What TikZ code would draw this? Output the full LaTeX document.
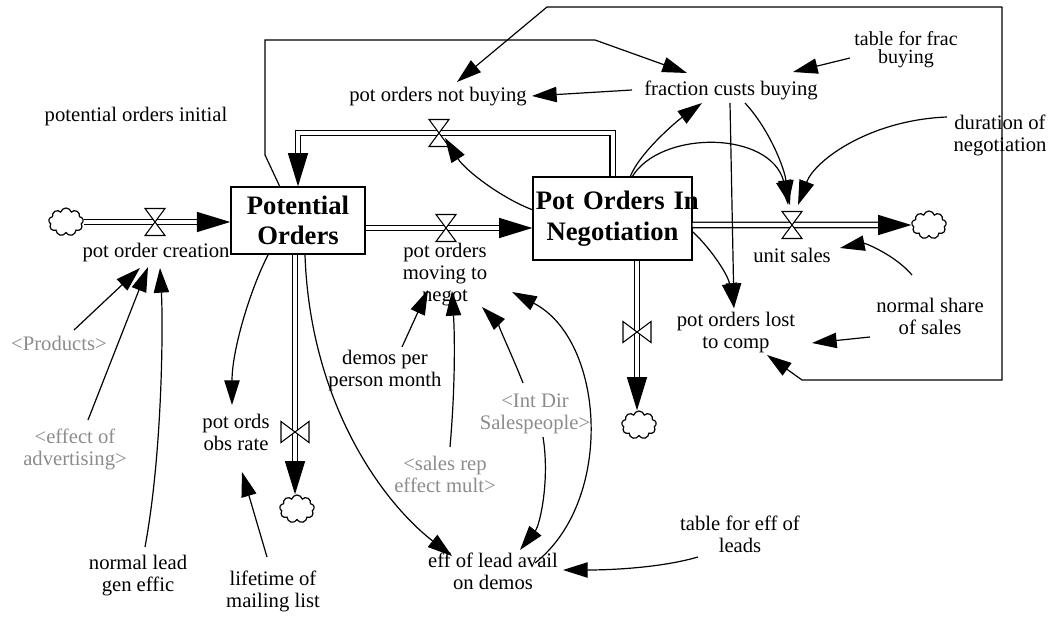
\documentclass[tikz,border=0pt]{standalone}
\usepackage{fontspec}
\setmainfont{Liberation Serif}
\usetikzlibrary{arrows.meta,shapes.symbols,calc}
\tikzset{
 txt/.style={font=\fontsize{15.5}{16.5}\selectfont, align=center, inner sep=1pt},
 gtxt/.style={txt, text=black!45},
 stock/.style={draw, line width=1.1pt, fill=white, font=\fontsize{20}{23}\selectfont\bfseries, align=center, inner sep=0pt},
 pipe/.style={double, double distance=3pt, line width=1.1pt},
 pipetip/.style={-{Triangle[length=25pt,width=15pt]}},
 link/.style={line width=0.9pt, -{Triangle[length=18.5pt,width=11.5pt]}},
 cloudnode/.style={cloud, cloud puffs=9, cloud ignores aspect, draw, line width=0.9pt, minimum width=26pt, minimum height=21pt, inner sep=0pt, fill=white},
 valveh/.pic={\filldraw[fill=white, line width=0.8pt] (-10,-13.5) -- (10,-13.5) -- (0,0) -- cycle (-10,13.5) -- (10,13.5) -- (0,0) -- cycle;},
 valvev/.pic={\filldraw[fill=white, line width=0.8pt] (-14,-10.5) -- (-14,10.5) -- (0,0) -- cycle (14,-10.5) -- (14,10.5) -- (0,0) -- cycle;},
}
\begin{document}
\begin{tikzpicture}[x=0.75pt,y=-0.75pt]
\useasboundingbox (0,0) rectangle (1052,623);

% stocks
\node[stock, minimum width=100.5pt, minimum height=50pt] (po) at (298,220.5) {Potential\\Orders};
\node[stock, text width=117pt, minimum width=119pt, minimum height=62pt] (poin) at (612.5,218.5) {\mbox{\hspace*{1pt}Pot Orders In}\\Negotiation};

% clouds
\node[cloudnode] (c1) at (66,222) {};
\node[cloudnode] (c4) at (929,225) {};
\node[cloudnode] (c5) at (639,425) {};
\node[cloudnode] (c6) at (297,509) {};

% valve positions
\coordinate (v1) at (155,222);
\coordinate (v2) at (446,228);
\coordinate (v3) at (439,133);
\coordinate (v4) at (792,225);
\coordinate (v5) at (637,332);
\coordinate (v6) at (295,432);

% pipes
\draw[pipe,pipetip] (c1.east) -- (c1.east -| po.west);
\draw[pipe,pipetip] (po.east |- v2) -- (poin.west |- v2);
\draw[pipe,pipetip] (poin.north) |- (v3) -| (po.north);
\draw[pipe,pipetip] (poin.east |- v4) -- (c4.west);
\draw[pipe,pipetip] (poin.south -| v5) -- (v5 |- c5.north);
\draw[pipe,pipetip] (po.south -| v6) -- (v6 |- c6.north);

\pic at (v1) {valveh};
\pic at (v2) {valveh};
\pic at (v3) {valveh};
\pic at (v4) {valveh};
\pic at (v5) {valvev};
\pic at (v6) {valvev};

% texts
\node[txt] (poi) at (136,117) {potential orders initial};
\node[txt] (pnb) at (438,97) {pot orders not buying};
\node[txt] (fcb) at (731,90) {fraction custs buying};
\node[txt, font=\fontsize{15}{13.5}\selectfont] (tfb) at (906,50) {table for frac\\buying};
\node[txt] (dn) at (1000,135) {duration of\\negotiation};
\node[txt] (us) at (792,255) {unit sales};
\node[txt] (nss) at (930,316) {normal share\\of sales};
\node[txt] (pol) at (736,333) {pot orders lost\\to comp};
\node[txt] (tel) at (740,534) {table for eff of\\leads};
\node[txt] (ela) at (493,571) {eff of lead avail\\on demos};
\node[txt] (dpm) at (385,371) {demos per\\person month};
\node[gtxt] (srm) at (445,474) {<sales rep\\effect mult>};
\node[gtxt] (ids) at (535,414) {<Int Dir\\Salespeople>};
\node[txt] (pmn) at (445,275) {pot orders\\moving to\\negot};
\node[txt] (poc) at (156,253) {pot order creation};
\node[gtxt] (prod) at (59,343) {<Products>};
\node[gtxt] (eoa) at (75,449) {<effect of\\advertising>};
\node[txt] (nlg) at (138,576) {normal lead\\gen effic};
\node[txt] (lml) at (273,591) {lifetime of\\mailing list};
\node[txt] (por) at (236,432) {pot ords\\obs rate};

% connectors
\draw[link] ([shift={(15,-13)}]prod.center) -- ([shift={(-16,15)}]poc.center);
\draw[link] ([shift={(13,-29)}]eoa.center) -- ([shift={(-8,14)}]poc.center);
\draw[link] ([shift={(7,-29)}]nlg.center) .. controls +(18,-97) and +(3,52) .. ([shift={(4,15)}]poc.center);
\draw[link] ([shift={(-30,34.5)}]po.center) .. controls +(-18,35) and +(0,-55) .. ([shift={(-4,-27)}]por.center);
\draw[link] ([shift={(-6,-34)}]lml.center) -- ([shift={(6,40)}]por.center);
\draw[link] ([shift={(7,34.5)}]po.center) .. controls +(5,145) and +(-72,-56) .. ([shift={(-41,-15)}]ela.center);
\draw[link] ([shift={(17,-24)}]dpm.center) -- ([shift={(-17,15)}]pmn.center);
\draw[link] ([shift={(5,-27)}]srm.center) .. controls +(5,-57) and +(3,49) .. ([shift={(7,16)}]pmn.center);
\draw[link] ([shift={(-12,-31)}]ids.center) .. controls +(-13,-33) and +(13,13) .. ([shift={(37,32)}]pmn.center);
\draw[link] ([shift={(8,23)}]ids.center) .. controls +(7,43) and +(20,-25) .. ([shift={(27,-21)}]ela.center);
\draw[link] ([shift={(42,-8)}]ela.center) .. controls +(80,-63) and +(93,48) .. ([shift={(67,17)}]pmn.center);
\draw[link] ([shift={(-42,23)}]tel.center) .. controls +(-38,11) and +(47,0) .. ([shift={(70,-1)}]ela.center);
\draw[link] ([shift={(-79.5,-8.5)}]poin.center) .. controls +(-32,-12) and +(20,32) .. ([shift={(6,5)}]v3);
\draw[link] ([shift={(17.5,-41.5)}]poin.center) .. controls +(10,-25) and +(-25,18) .. ([shift={(-29,13)}]fcb.center);
\draw[link] ([shift={(19.5,-41.5)}]poin.center) .. controls +(28,-47) and +(-20,-75) .. ([shift={(-2,-20)}]v4);
\draw[link] ([shift={(14,13)}]fcb.center) .. controls +(25,27) and +(-3,-35) .. ([shift={(-4,-20)}]v4);
\draw[link] ([shift={(-53,-18)}]dn.center) .. controls +(-77,3) and +(17,-45) .. ([shift={(6,-20)}]v4);
\draw[link] ([shift={(-1,13)}]fcb.center) -- ([shift={(-2,-25)}]pol.center);
\draw[link] ([shift={(80.5,13.5)}]poin.center) .. controls +(19,18) and +(-6,-33) .. ([shift={(-2,-25)}]pol.center);
\draw[link] ([shift={(-56,8)}]tfb.center) -- ([shift={(62,-18)}]fcb.center);
\draw[link] ([shift={(-99,0)}]fcb.center) -- ([shift={(94,-1)}]pnb.center);
\draw[link] ([shift={(-18,-41)}]nss.center) .. controls +(-17,-20) and +(25,-5) .. ([shift={(48,-7)}]us.center);
\draw[link] ([shift={(-60,21)}]nss.center) -- ([shift={(76,10)}]pol.center);

% long loops
\coordinate (k1) at (547,7);
\coordinate (k2) at (1002,7);
\coordinate (k3) at (1002,380);
\coordinate (k4) at (802,380);
\draw[link] (k2) -- (k1) -- ([shift={(19,-15)}]pnb.center);
\draw[link] (k2) -- (k3) -- (k4) -- ([shift={(31,22)}]pol.center);
\coordinate (k5) at (265,155);
\coordinate (k6) at (265,40);
\coordinate (k7) at (595,40);
\draw[link] ([shift={(-18,-33.5)}]po.center) -- (k5) -- (k6) -- (k7) -- ([shift={(-44,-17)}]fcb.center);
\end{tikzpicture}
\end{document}
